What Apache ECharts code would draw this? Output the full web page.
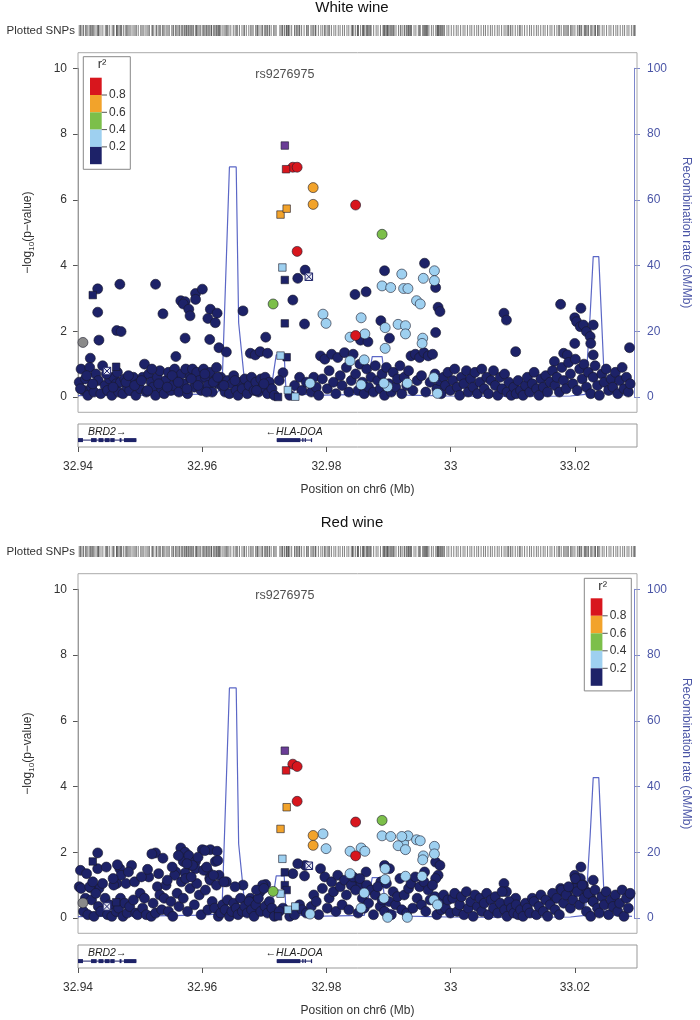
<!DOCTYPE html>
<html><head><meta charset="utf-8">
<script src="https://cdn.jsdelivr.net/npm/echarts@6/dist/echarts.min.js"></script>
<style>html,body{margin:0;padding:0;background:#fff}#c{width:700px;height:1020px}</style>
</head><body><div id="c"></div>
<script>
// ---------------- data ----------------
const panelTitles = ['White wine', 'Red wine'];
const xMin = 32.94, xMax = 33.03;
const xTicks = [32.94, 32.96, 32.98, 33, 33.02];
const leftTicks = [0, 2, 4, 6, 8, 10];
const rightTicks = [0, 20, 40, 60, 80, 100];
const leadSnp = ['rs9276975', 32.9736, 9.82];
const r2Labels = ['0.8', '0.6', '0.4', '0.2'];
const r2Colors = ['#d8161d', '#f2a32b', '#7cbf4a', '#9ed0f0', '#1d2268'];

// rows: [position (Mb), -log10 p white wine, -log10 p red wine]
const navyCircles = [
[32.9432,3.29,1.98],[32.9432,2.58,1.50],[32.9434,1.73,0.90],[32.9420,1.18,0.92],[32.9468,3.43,1.50],[32.9463,2.02,1.05],[32.9470,1.99,1.30],[32.9526,3.43,1.98],[32.9538,2.53,1.82],[32.9567,2.93,2.13],[32.9574,2.90,2.00],[32.9571,2.83,1.72],[32.9580,2.67,1.90],[32.9582,2.47,1.60],[32.9574,1.79,1.37],[32.9591,3.15,1.72],[32.9602,3.28,2.08],[32.9591,2.97,1.50],[32.9615,2.67,2.08],[32.9611,2.39,1.42],[32.9626,2.55,2.03],[32.9623,2.26,1.72],[32.9614,1.75,1.20],[32.9559,1.23,1.40],[32.9629,1.50,1.30],[32.9641,1.37,1.10],[32.9668,2.62,1.00],[32.9705,1.82,1.02],[32.9680,1.33,0.60],[32.9688,1.28,0.50],[32.9696,1.38,0.80],[32.9708,1.33,0.40],[32.9749,2.95,1.35],[32.9769,3.86,1.60],[32.9757,3.61,1.65],[32.9768,2.22,1.28],[32.9733,0.74,0.30],
[32.9898,3.84,1.60],[32.9963,4.07,1.40],[32.9981,3.33,1.70],[32.9850,3.12,1.20],[32.9868,3.20,1.40],[32.9985,2.73,1.30],[32.9988,2.60,1.60],[32.9892,2.32,1.10],[32.9906,1.79,1.50],[32.9981,1.96,1.20],[32.9859,1.73,1.00],[32.9871,1.68,0.90],[33.0092,2.55,1.05],[33.0096,2.34,0.80],[33.0111,1.38,0.60],[33.0184,2.82,0.90],[33.0217,2.70,1.55],[33.0207,2.41,1.30],[33.0210,2.29,1.10],[33.0216,2.14,1.20],[33.0221,2.19,1.00],[33.0226,1.99,0.80],[33.0237,2.19,1.15],[33.0232,1.84,0.70],[33.0233,1.63,0.60],[33.0207,1.63,0.90],[33.0237,1.28,0.50],[33.0296,1.50,0.70],[33.0189,1.33,0.80],[33.0174,1.08,0.60],[33.0195,1.28,0.70],
[32.9402,0.45,0.95],[32.9405,0.85,0.90],[32.9409,0.20,0.20],[32.9412,0.55,0.60],[32.9416,0.05,0.10],[32.9419,0.90,0.95],[32.9422,0.30,0.55],[32.9426,0.15,0.05],[32.9429,0.70,0.75],[32.9433,0.50,0.35],[32.9437,0.10,0.20],[32.9440,0.95,1.05],[32.9444,0.35,0.60],[32.9448,0.20,0.10],[32.9451,0.55,0.40],[32.9455,0.05,0.05],[32.9458,0.60,1.00],[32.9462,0.40,0.20],[32.9466,0.15,0.30],[32.9469,0.45,0.60],[32.9473,0.10,0.05],[32.9476,0.55,0.45],[32.9480,0.30,0.15],[32.9484,0.20,0.35],[32.9487,0.50,1.60],[32.9490,0.60,0.55],[32.9494,0.05,0.15],[32.9497,0.40,0.10],
[32.9501,0.25,0.75],[32.9505,0.60,0.30],[32.9508,1.00,0.60],[32.9511,0.15,0.10],[32.9515,0.70,1.25],[32.9519,0.45,0.05],[32.9522,0.30,0.45],[32.9526,0.05,0.15],[32.9529,0.60,0.95],[32.9533,0.80,0.70],[32.9536,0.25,0.25],[32.9540,0.10,0.60],[32.9543,0.50,1.00],[32.9547,0.75,0.20],[32.9551,0.20,0.50],[32.9554,0.35,0.05],[32.9557,0.85,1.30],[32.9561,0.55,0.75],[32.9564,0.15,0.35],[32.9568,0.70,1.10],[32.9571,0.40,0.60],[32.9575,0.85,1.20],[32.9578,0.10,0.20],[32.9582,0.60,0.90],[32.9586,0.85,1.60],[32.9589,0.30,0.40],[32.9593,0.75,1.05],[32.9597,0.50,0.70],[32.9600,0.20,0.10],[32.9604,0.85,1.45],[32.9607,0.60,0.85],[32.9611,0.35,0.25],[32.9615,0.75,1.15],[32.9618,0.15,0.50],[32.9622,0.50,0.30],[32.9625,0.90,1.00],[32.9628,0.40,0.05],
[32.9632,0.60,0.15],[32.9635,0.30,0.40],[32.9639,0.15,0.25],[32.9643,0.50,0.55],[32.9646,0.10,0.05],[32.9650,0.40,0.20],[32.9653,0.65,0.45],[32.9657,0.20,0.30],[32.9660,0.05,0.10],[32.9664,0.45,0.60],[32.9667,0.25,0.20],[32.9671,0.55,0.35],[32.9675,0.10,0.15],[32.9678,0.35,0.50],[32.9682,0.60,0.25],[32.9686,0.20,0.05],[32.9689,0.45,0.40],[32.9693,0.15,0.60],[32.9697,0.55,0.20],[32.9700,0.30,1.00],[32.9704,0.60,0.35],[32.9708,0.10,0.15],[32.9711,0.45,0.50],[32.9715,0.25,0.30],[32.9719,0.05,0.05],
[32.9727,0.50,0.20],[32.9744,0.05,0.05],[32.9752,0.35,0.10],[32.9760,0.60,0.40],[32.9764,0.20,0.25],[32.9771,0.45,0.15],[32.9779,0.15,0.35],[32.9783,0.60,0.70],[32.9787,0.30,0.50],[32.9791,0.05,0.10],[32.9794,1.25,1.50],[32.9797,0.55,0.90],[32.9801,1.15,1.25],[32.9805,0.25,0.30],[32.9808,0.80,0.60],[32.9812,1.30,1.10],[32.9815,0.45,0.80],[32.9819,0.10,0.20],[32.9822,1.20,1.30],[32.9826,0.65,0.95],[32.9829,0.35,0.40],[32.9833,1.35,1.15],[32.9836,0.90,0.70],[32.9840,0.15,0.25],[32.9844,0.50,1.00],[32.9847,1.30,1.25],
[32.9851,0.70,0.85],[32.9855,0.20,0.15],[32.9858,1.00,1.20],[32.9862,0.45,0.60],[32.9865,0.10,0.30],[32.9869,0.85,1.00],[32.9872,0.30,0.45],[32.9876,0.60,0.85],[32.9880,0.15,0.10],[32.9883,0.95,0.70],[32.9887,0.50,0.95],[32.9891,0.25,0.35],[32.9894,0.70,0.55],[32.9898,0.05,0.20],[32.9901,0.90,1.05],[32.9905,0.40,0.50],[32.9909,0.15,0.10],[32.9912,0.75,0.80],[32.9916,0.30,0.40],[32.9919,0.55,0.65],[32.9923,0.95,1.20],[32.9926,0.10,0.25],[32.9930,0.60,0.70],[32.9934,0.35,0.15],[32.9937,0.80,0.90],[32.9941,1.25,1.05],[32.9944,0.20,0.30],[32.9948,1.30,1.25],[32.9951,0.50,0.60],[32.9955,1.20,0.95],[32.9958,0.65,0.40],[32.9962,1.35,1.10],[32.9965,0.15,0.20],[32.9969,1.25,0.85],[32.9972,0.45,0.55],[32.9976,1.30,1.00],[32.9980,0.70,0.65],[32.9983,0.25,0.10],[32.9987,0.50,0.45],[32.9990,0.10,0.25],[32.9994,0.60,0.70],[32.9997,0.35,0.30],
[33.0001,0.75,0.55],[33.0005,0.20,0.15],[33.0009,0.50,0.60],[33.0012,0.85,0.75],[33.0016,0.30,0.20],[33.0020,0.05,0.40],[33.0023,0.60,0.65],[33.0027,0.40,0.10],[33.0031,0.80,0.80],[33.0034,0.15,0.30],[33.0038,0.55,0.50],[33.0042,0.30,0.05],[33.0045,0.75,0.70],[33.0049,0.10,0.35],[33.0053,0.45,0.60],[33.0056,0.85,0.20],[33.0060,0.25,0.45],[33.0064,0.60,0.75],[33.0067,0.10,0.10],[33.0071,0.50,0.55],[33.0075,0.80,0.30],[33.0078,0.35,0.65],[33.0082,0.05,0.15],[33.0086,0.60,0.45],[33.0089,0.25,0.80],[33.0093,0.70,0.25],[33.0097,0.15,0.05],[33.0100,0.45,0.50],[33.0104,0.05,0.30],[33.0108,0.30,0.15],[33.0112,0.10,0.40],[33.0115,0.50,0.10],[33.0119,0.20,0.25],[33.0123,0.05,0.05],[33.0127,0.35,0.45],[33.0130,0.60,0.30],[33.0134,0.15,0.15],[33.0138,0.40,0.60],[33.0141,0.75,0.50],[33.0145,0.25,0.10],[33.0149,0.05,0.35],[33.0152,0.55,0.70],[33.0156,0.30,0.20],[33.0160,0.65,0.55],[33.0163,0.15,0.05],[33.0167,0.45,0.40],[33.0171,0.80,0.75],
[33.0175,0.35,0.25],[33.0178,0.60,0.60],[33.0182,0.15,0.10],[33.0186,0.90,0.85],[33.0189,0.50,0.45],[33.0193,0.25,0.70],[33.0197,1.05,0.95],[33.0200,0.70,0.30],[33.0204,0.40,0.55],[33.0208,1.15,1.20],[33.0211,0.20,0.80],[33.0215,0.85,0.40],[33.0219,0.55,1.00],[33.0222,1.00,0.60],[33.0226,0.30,0.20],[33.0229,0.75,0.75],[33.0233,0.10,0.05],[33.0237,0.60,0.50],[33.0240,0.95,0.85],[33.0244,0.35,0.30],[33.0247,0.05,0.15],[33.0251,0.70,0.65],[33.0255,0.45,0.40],[33.0258,0.85,0.80],[33.0262,0.20,0.10],[33.0266,0.55,0.55],[33.0269,0.30,0.35],[33.0273,0.75,0.70],[33.0277,0.10,0.20],[33.0280,0.50,0.45],[33.0284,0.90,0.85],[33.0287,0.25,0.05],[33.0291,0.60,0.60],[33.0294,0.15,0.30],[33.0297,0.40,0.75],
[32.9404,0.25,1.45],[32.9414,0.65,1.35],[32.9424,0.40,1.10],[32.9446,0.70,1.55],[32.9457,0.30,1.20],[32.9464,0.75,1.62],[32.9478,0.45,1.05],[32.9482,0.65,1.40],[32.9492,0.35,1.10],[32.9503,0.50,1.25],[32.9513,0.20,1.48],[32.9520,0.85,1.95],[32.9531,0.40,1.35],[32.9545,0.30,1.15],[32.9553,0.65,1.55],[32.9563,0.45,1.90],[32.9577,0.25,1.65],[32.9584,0.55,1.25],[32.9595,0.35,1.85],[32.9606,0.70,2.05],[32.9609,0.15,1.55],[32.9620,0.45,1.30],[32.9627,0.60,1.75],[32.9637,0.35,1.10],[32.9655,0.50,0.95],[32.9690,0.20,0.85],[32.9702,0.40,0.90]
];
const navySquares = [[32.9424,3.10,1.72],[32.9736,3.56,1.39],[32.9736,2.24,1.00],[32.9739,1.21,0.85],[32.9725,0.00,0.05],[32.9462,0.92,0.48]];
const greyCircles = [[32.9408,1.66,0.46]];
const crossSquares = [[32.9775,3.66,1.59],[32.9447,0.79,0.35]];
const lightBlueCircles = [
[32.9894,3.38,2.50],[32.9908,3.33,2.48],[32.9929,3.30,2.28],[32.9936,3.30,2.50],[32.9926,3.74,2.48],[32.9950,2.93,2.38],[32.9956,2.83,2.35],[32.9961,3.61,1.89],[32.9979,3.84,2.18],[32.9979,3.54,1.95],[32.9860,2.41,2.13],[32.9866,1.92,2.03],[32.9899,2.11,1.17],[32.9920,2.21,2.20],[32.9932,2.17,2.08],[32.9932,1.92,1.27],[32.9899,1.48,1.50],[32.9960,1.79,1.77],[32.9959,1.63,1.27],[32.9865,1.13,0.76],[32.9978,0.59,0.55],[32.9935,0.42,0.02],[32.9984,0.11,0.40],[32.9903,0.31,0.02],[32.9897,0.42,0.60],[32.9860,0.37,0.30],[32.9798,2.52,2.56],[32.9803,2.24,2.11],[32.9842,1.82,2.03],[32.9842,1.10,1.35],[32.9777,0.42,0.12]
];
const lightBlueSquares = [[32.9732,3.94,1.80],[32.9729,1.26,0.74],[32.9741,0.21,0.25],[32.9753,0.01,0.35]];
const greenCircles = [[32.9717,2.83,0.81],[32.9894,4.95,2.97]];
const orangeCircles = [[32.9782,6.37,2.51],[32.9782,5.86,2.21]];
const orangeSquares = [[32.9729,5.55,2.71],[32.9739,5.73,3.37]];
const redCircles = [[32.9749,6.99,4.68],[32.9756,6.99,4.61],[32.9756,4.43,3.55],[32.9851,5.84,2.92],[32.9851,1.87,1.89]];
const redSquares = [[32.9738,6.93,4.49]];
const indexSquare = [[32.9736,7.65,5.09]];

// recombination rate (cM/Mb), shared by both panels
const recombPos  = [32.9400,32.9500,32.9600,32.9625,32.9634,32.9646,32.9657,32.9661,32.9672,32.9700,32.9713,32.9722,32.9735,32.9738,32.9750,32.9754,32.9757,32.9800,32.9865,32.9875,32.9878,32.9894,32.9900,32.9935,33.0000,33.0100,33.0200,33.0224,33.0232,33.0237,33.0246,33.0256,33.0300];
const recombRate = [0.4,0.6,0.9,1.2,3.0,70.0,70.0,22.5,2.0,1.2,1.5,12.8,12.8,1.5,0.8,4.6,0.9,0.6,0.8,9.0,12.3,12.3,3.0,0.6,0.3,0.2,0.3,0.8,25.0,42.7,42.7,1.0,0.5];

// genes
const geneNames = ['BRD2', 'HLA-DOA'];
const geneStrands = ['+', '-'];
const geneExons = [
  [[32.9400,32.9408],[32.9421,32.9430],[32.9433,32.9441],[32.9443,32.9451],[32.9452,32.9459],[32.9467,32.9470],[32.9474,32.9494]],
  [[32.9720,32.9758],[32.9761,32.9763],[32.9765,32.9766],[32.9775,32.9776]]
];

// ---------------- chart ----------------
const FONT = 'Liberation Sans';
const navy = r2Colors[4];
const recColor = '#5b67c6';
const recText = '#4a55a6';
const L = 78, W = 559;
const chart = echarts.init(document.getElementById('c'), null, {renderer: 'canvas'});

const grids = [], xAxes = [], yAxes = [], series = [], graphics = [];
const allRows = [].concat(navyCircles, navySquares, greyCircles, crossSquares, lightBlueCircles, lightBlueSquares, greenCircles, orangeCircles, orangeSquares, redCircles, redSquares, indexSquare);

function fmtX(v) { return String(+(+v).toFixed(2)); }

[0, 1].forEach(p => {
  const off = p * 521;
  const gi = p * 3, yi = p * 4;
  grids.push({left: L, width: W, top: 68.3 + off, height: 328.7});
  grids.push({left: L, width: W, top: 424 + off, height: 23, show: true, borderColor: '#999', borderWidth: 1});
  grids.push({left: L, width: W, top: 25 + off, height: 11});

  xAxes.push({gridIndex: gi, type: 'value', min: xMin, max: xMax, show: false});
  xAxes.push({gridIndex: gi + 1, type: 'value', min: xMin, max: xMax, position: 'bottom',
    interval: 0.02,
    axisLine: {show: false}, splitLine: {show: false},
    axisTick: {show: true, length: 5, lineStyle: {color: '#555'}, customValues: xTicks},
    axisLabel: {fontFamily: FONT, fontSize: 12, color: '#333', margin: 14, customValues: xTicks, formatter: fmtX},
    name: 'Position on chr6 (Mb)', nameLocation: 'middle', nameGap: 37,
    nameTextStyle: {fontFamily: FONT, fontSize: 12, color: '#333'}});
  xAxes.push({gridIndex: gi + 2, type: 'value', min: xMin, max: xMax, show: false});

  yAxes.push({gridIndex: gi, type: 'value', min: 0, max: 10, interval: 2, position: 'left',
    axisLine: {show: true, lineStyle: {color: '#888'}},
    axisTick: {show: true, length: 5, lineStyle: {color: '#555'}},
    splitLine: {show: false},
    axisLabel: {fontFamily: FONT, fontSize: 12, color: '#333', margin: 11},
    name: '{a|\u2212log}{s|10}{a|(p\u2212value)}', nameLocation: 'middle', nameGap: 42, nameRotate: 90,
    nameTextStyle: {fontFamily: FONT, color: '#333', rich: {
      a: {fontFamily: FONT, fontSize: 12, color: '#333', lineHeight: 16},
      s: {fontFamily: FONT, fontSize: 8, color: '#333', verticalAlign: 'bottom', lineHeight: 10}}}});
  yAxes.push({gridIndex: gi, type: 'value', min: 0, max: 100, interval: 20, position: 'right', offset: 2,
    axisLine: {show: true, lineStyle: {color: '#7c86cc'}},
    axisTick: {show: true, length: 6, lineStyle: {color: '#7c86cc'}},
    splitLine: {show: false},
    axisLabel: {fontFamily: FONT, fontSize: 12, color: recText, margin: 13},
    name: 'Recombination rate (cM/Mb)', nameLocation: 'middle', nameGap: 46, nameRotate: -90,
    nameTextStyle: {fontFamily: FONT, fontSize: 12, color: recText}});
  yAxes.push({gridIndex: gi + 1, type: 'value', min: 0, max: 1, show: false});
  yAxes.push({gridIndex: gi + 2, type: 'value', min: -1, max: 1, show: false});

  // recombination line
  series.push({type: 'line', xAxisIndex: gi, yAxisIndex: yi + 1, data: recombPos.map((x, i) => [x, recombRate[i]]),
    showSymbol: false, symbol: 'none', lineStyle: {color: recColor, width: 1.2}, z: 2, silent: true, animation: false});

  function sc(rows, symbol, size, color, z, extraStyle) {
    series.push({type: 'scatter', xAxisIndex: gi, yAxisIndex: yi, data: rows.map(r => [r[0], r[1 + p]]),
      symbol: symbol, symbolSize: size, clip: false, z: z, animation: false, silent: true,
      itemStyle: Object.assign({color: color, borderColor: '#1a1a2a', borderWidth: 0.6, opacity: 1}, extraStyle || {})});
  }
  sc(navyCircles, 'circle', 10, navy, 3);
  sc(navySquares, 'rect', 7.5, navy, 3);
  sc(greyCircles, 'circle', 10, '#8a8a8a', 3);
  sc(crossSquares, 'path://M0,0L10,0L10,10L0,10Z M0,0L10,10 M10,0L0,10', 7.5, '#e6e8f4', 3, {borderColor: navy, borderWidth: 1});
  sc(lightBlueCircles, 'circle', 10, r2Colors[3], 4);
  sc(lightBlueSquares, 'rect', 7.5, r2Colors[3], 4);
  sc(greenCircles, 'circle', 10, r2Colors[2], 5);
  sc(orangeCircles, 'circle', 10, r2Colors[1], 6);
  sc(orangeSquares, 'rect', 7.5, r2Colors[1], 6);
  sc(redCircles, 'circle', 10, r2Colors[0], 7);
  sc(redSquares, 'rect', 7.5, r2Colors[0], 7);
  sc(indexSquare, 'rect', 7.5, '#6a3d96', 8);

  // lead SNP label
  series.push({type: 'scatter', xAxisIndex: gi, yAxisIndex: yi, data: [[leadSnp[1], leadSnp[2]]], symbolSize: 0, silent: true, animation: false,
    label: {show: true, position: 'inside', formatter: leadSnp[0], fontFamily: FONT, fontSize: 12.5, color: '#222'}});

  // plotted SNPs barcode
  series.push({type: 'scatter', xAxisIndex: gi + 2, yAxisIndex: yi + 3, data: allRows.map(r => [r[0], 0]),
    symbol: 'rect', symbolSize: [1, 11], silent: true, animation: false, itemStyle: {color: '#555', opacity: 0.75}});

  // genes
  series.push({type: 'custom', xAxisIndex: gi + 1, yAxisIndex: yi + 2, silent: true, animation: false,
    data: geneExons.map((ex, i) => [ex[0][0], ex[ex.length - 1][1], i]),
    encode: {x: [0, 1]},
    renderItem: function (params, api) {
      const i = api.value(2);
      const s = api.coord([api.value(0), 0.3]);
      const e = api.coord([api.value(1), 0.3]);
      const children = [{type: 'line', shape: {x1: s[0], y1: s[1], x2: e[0], y2: e[1]}, style: {stroke: navy, lineWidth: 1}}];
      geneExons[i].forEach(ex => {
        const a = api.coord([ex[0], 0.3]), b = api.coord([ex[1], 0.3]);
        children.push({type: 'rect', shape: {x: a[0], y: a[1] - 2, width: Math.max(1.2, b[0] - a[0]), height: 4}, style: {fill: navy}});
      });
      const txt = geneStrands[i] === '+' ? geneNames[i] + '\u2192' : '\u2190' + geneNames[i];
      const lab = api.coord([(api.value(0) + api.value(1)) / 2, 0.63]);
      const halfW = txt.length * 3.1;
      const lx = Math.max(lab[0], params.coordSys.x + 4 + halfW);
      children.push({type: 'text', x: lx, y: lab[1], style: {text: txt, fontFamily: FONT, fontSize: 10.5, fontStyle: 'italic', fill: '#222', align: 'center', verticalAlign: 'middle'}});
      return {type: 'group', children: children};
    }});

  // frame of the main plot
  graphics.push({type: 'rect', shape: {x: L, y: 52.7 + off, width: W, height: 359.6}, style: {fill: 'none', stroke: '#aaa', lineWidth: 1}, z: 1});
  // titles
  graphics.push({type: 'text', x: 352, y: (p === 0 ? 8 : 523), style: {text: panelTitles[p], fontFamily: FONT, fontSize: 15, fill: '#111', align: 'center', verticalAlign: 'middle'}});
  graphics.push({type: 'text', x: 75, y: 30.5 + off, style: {text: 'Plotted SNPs', fontFamily: FONT, fontSize: 11.5, fill: '#333', align: 'right', verticalAlign: 'middle'}});

  // r2 legend
  const lg = p === 0 ? {bx: 83.3, by: 56.7, barX: 90, bandTop: 77.7, bandH: 17.3} : {bx: 584.3, by: 578.3, barX: 590.7, bandTop: 598.3, bandH: 17.5};
  const leg = [];
  leg.push({type: 'rect', shape: {x: lg.bx, y: lg.by, width: 47, height: 112.6}, style: {fill: '#fff', stroke: '#888', lineWidth: 1}});
  r2Colors.forEach((c, k) => {
    leg.push({type: 'rect', shape: {x: lg.barX, y: lg.bandTop + k * lg.bandH, width: 11.7, height: lg.bandH}, style: {fill: c}});
  });
  r2Labels.forEach((t, k) => {
    const yy = lg.bandTop + (k + 1) * lg.bandH;
    leg.push({type: 'line', shape: {x1: lg.barX + 11.7, y1: yy, x2: lg.barX + 17, y2: yy}, style: {stroke: '#555', lineWidth: 1}});
    leg.push({type: 'text', x: lg.barX + 19, y: yy, style: {text: t, fontFamily: FONT, fontSize: 12, fill: '#333', verticalAlign: 'middle'}});
  });
  leg.push({type: 'text', x: lg.barX + 12, y: lg.by + 8, style: {text: 'r\u00b2', fontFamily: FONT, fontSize: 13, fill: '#333', align: 'center', verticalAlign: 'middle'}});
  graphics.push({type: 'group', children: leg, z: 20});
});

chart.setOption({
  animation: false,
  backgroundColor: '#fff',
  grid: grids, xAxis: xAxes, yAxis: yAxes, series: series,
  graphic: graphics
});
</script></body></html>
